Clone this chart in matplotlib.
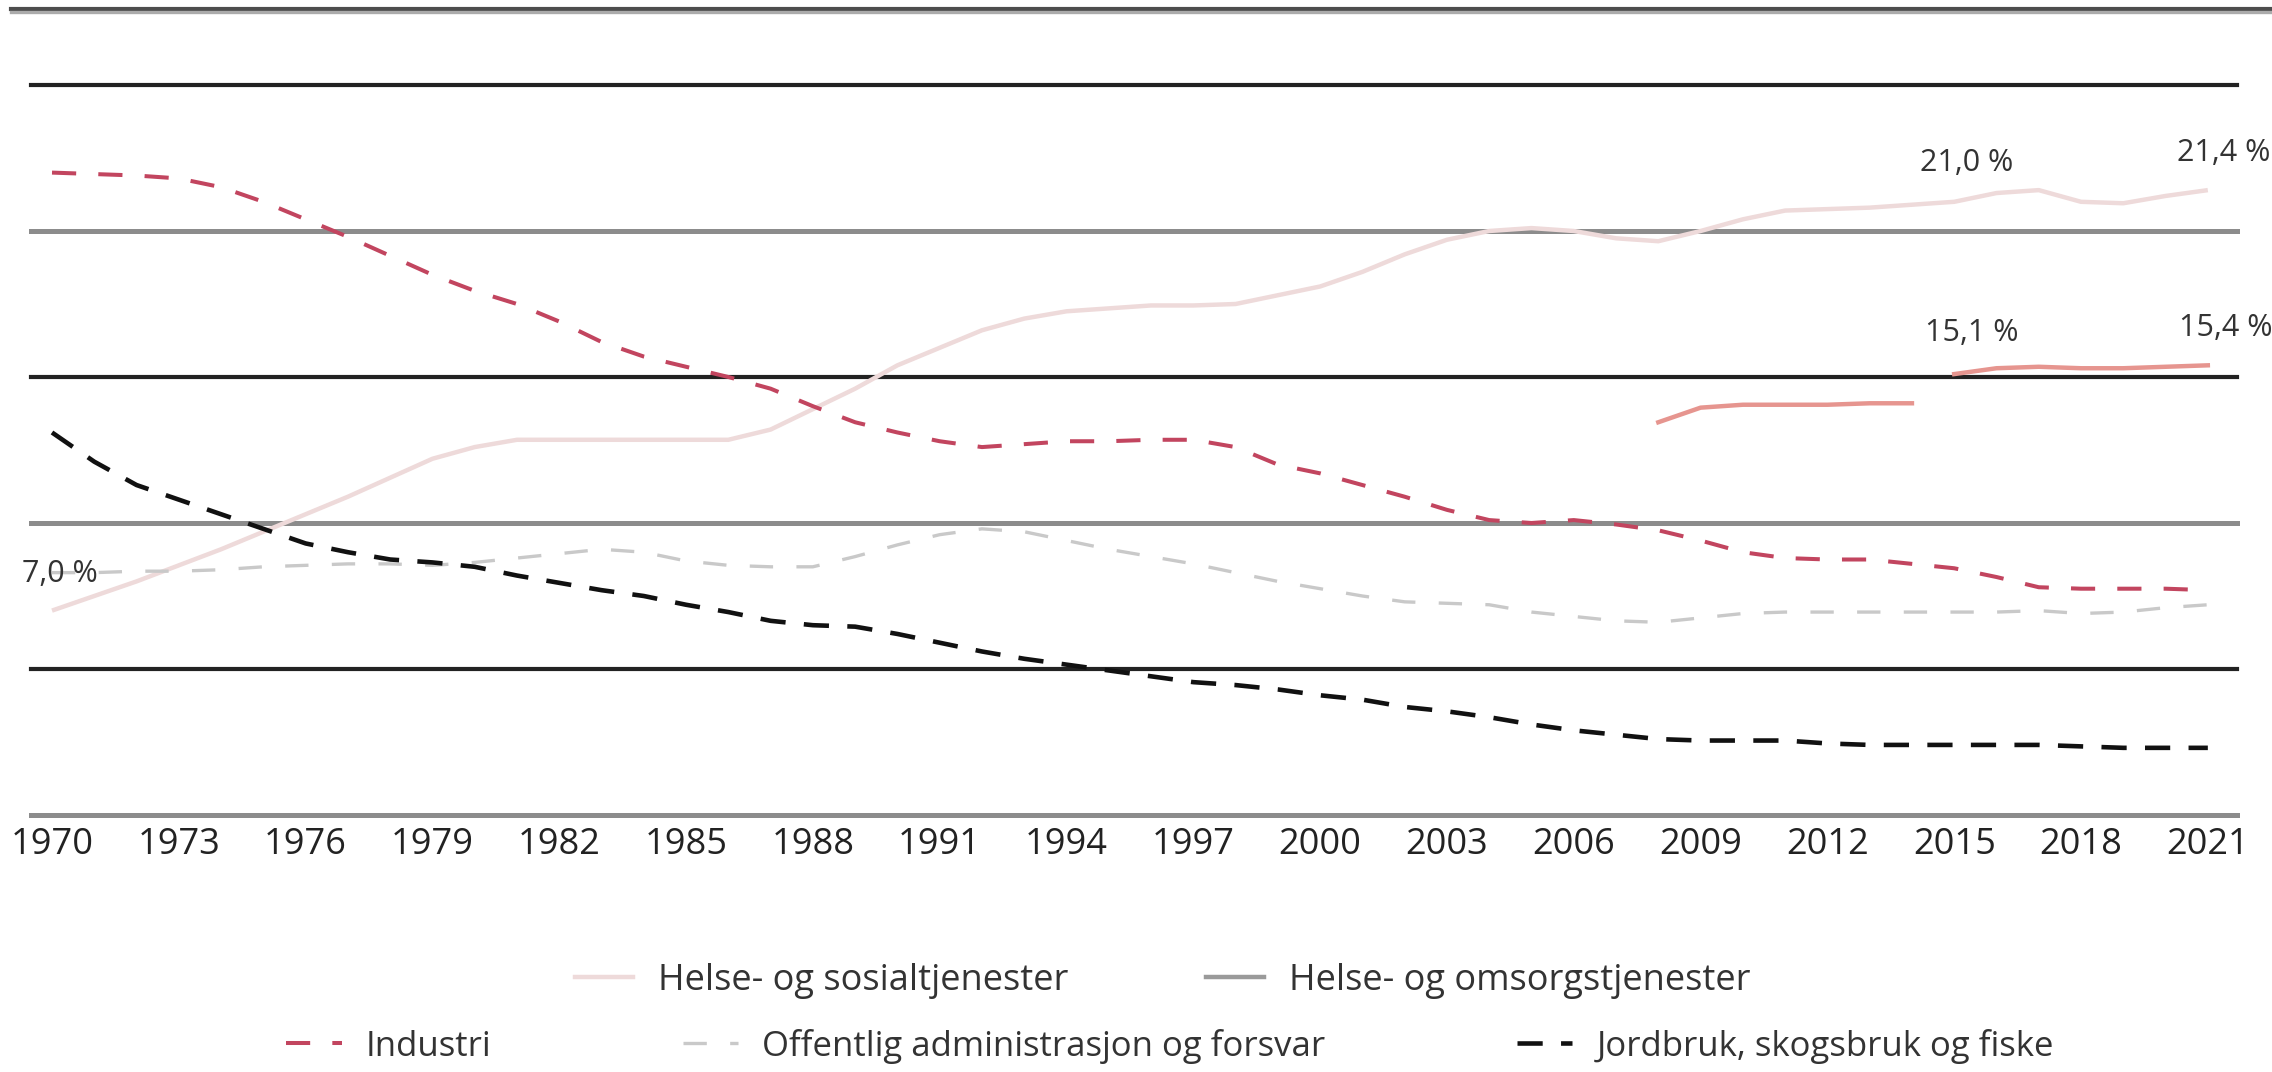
import numpy as np
import matplotlib
matplotlib.use("Agg")
import matplotlib.pyplot as plt
from matplotlib.lines import Line2D

plt.rcParams['font.family'] = ['Open Sans', 'DejaVu Sans']

years = list(range(1970, 2022))

helse_sosial = [7.0, 7.5, 8.0, 8.55, 9.1, 9.7, 10.3, 10.9, 11.55, 12.2,
                12.6, 12.85, 12.85, 12.85, 12.85, 12.85, 12.85, 13.2, 13.9, 14.6,
                15.4, 16.0, 16.6, 17.0, 17.25, 17.35, 17.45, 17.45, 17.5, 17.8,
                18.1, 18.6, 19.2, 19.7, 20.0, 20.1, 20.0, 19.75, 19.65, 20.0,
                20.4, 20.7, 20.75, 20.8, 20.9, 21.0, 21.3, 21.4, 21.0, 20.95,
                21.2, 21.4]

industri = [22.0, 21.95, 21.9, 21.8, 21.5, 21.0, 20.4, 19.8, 19.15, 18.5,
            17.95, 17.5, 16.9, 16.2, 15.7, 15.35, 15.0, 14.6, 14.0, 13.45,
            13.1, 12.8, 12.6, 12.7, 12.8, 12.8, 12.85, 12.85, 12.6, 12.0,
            11.7, 11.3, 10.9, 10.45, 10.1, 10.0, 10.1, 9.95, 9.75, 9.4,
            9.0, 8.8, 8.75, 8.75, 8.6, 8.45, 8.15, 7.8, 7.75, 7.75,
            7.75, 7.7]

offentlig = [8.3, 8.3, 8.35, 8.35, 8.4, 8.5, 8.55, 8.6, 8.6, 8.55,
             8.65, 8.8, 8.95, 9.1, 9.0, 8.7, 8.55, 8.5, 8.5, 8.85,
             9.25, 9.6, 9.8, 9.7, 9.4, 9.1, 8.85, 8.6, 8.3, 8.0,
             7.75, 7.5, 7.3, 7.25, 7.2, 6.95, 6.8, 6.65, 6.6, 6.75,
             6.9, 6.95, 6.95, 6.95, 6.95, 6.95, 6.95, 7.0, 6.9, 6.95,
             7.1, 7.2]

jordbruk = [13.1, 12.1, 11.3, 10.8, 10.3, 9.8, 9.3, 9.0, 8.75, 8.65,
            8.5, 8.2, 7.95, 7.7, 7.5, 7.2, 6.95, 6.65, 6.5, 6.45,
            6.2, 5.9, 5.6, 5.35, 5.15, 4.95, 4.75, 4.55, 4.45, 4.3,
            4.1, 3.95, 3.7, 3.55, 3.35, 3.1, 2.9, 2.75, 2.6, 2.55,
            2.55, 2.55, 2.45, 2.4, 2.4, 2.4, 2.4, 2.4, 2.35, 2.3,
            2.3, 2.3]

# Helse- og omsorgstjenester: two series with a break between 2014 and 2015
omsorg_years_a = [2008, 2009, 2010, 2011, 2012, 2013, 2014]
omsorg_a = [13.45, 13.95, 14.05, 14.05, 14.05, 14.1, 14.1]
omsorg_years_b = [2015, 2016, 2017, 2018, 2019, 2020, 2021]
omsorg_b = [15.1, 15.3, 15.35, 15.3, 15.3, 15.35, 15.4]

xticks = list(range(1970, 2022, 3))

c_sos = '#eedada'
c_oms = '#e6958f'
c_ind = '#c2455f'
c_off = '#c9c9c9'
c_jor = '#111111'

fig = plt.figure(figsize=(22.72, 10.72), dpi=100)
ax = fig.add_axes([31 / 2272, 257 / 1072, 2206 / 2272, 730 / 1072])
ax.set_xlim(1969.503, 2021.69)
ax.set_ylim(0, 25)

# alternating black / grey horizontal lines
for i, lvl in enumerate(range(0, 30, 5)):
    if i % 2 == 0:
        ax.axhline(lvl, color='#8c8c8c', lw=3.6, zorder=1, clip_on=False)
    else:
        ax.axhline(lvl, color='#222222', lw=3.0, zorder=1, clip_on=False)

ax.plot(years, helse_sosial, color=c_sos, lw=3.2, zorder=3, solid_capstyle='butt')
ax.plot(omsorg_years_a, omsorg_a, color=c_oms, lw=3.2, zorder=3)
ax.plot(omsorg_years_b, omsorg_b, color=c_oms, lw=3.2, zorder=3)
ax.plot(years, offentlig, color=c_off, lw=2.4, dashes=(7, 7), zorder=3)
ax.plot(years, industri, color=c_ind, lw=2.9, dashes=(6, 5.5), zorder=4)
ax.plot(years, jordbruk, color=c_jor, lw=3.3, dashes=(5.5, 4), zorder=4)

# value labels
lbl = dict(fontsize=22, color='#333333', textcoords='offset points',
           ha='left', va='center', annotation_clip=False)
ax.annotate('7,0 %', (years[0], helse_sosial[0]), xytext=(-21.5, 26.5), **lbl)
ax.annotate('21,0 %', (2015, helse_sosial[years.index(2015)]), xytext=(-24.5, 28), **lbl)
ax.annotate('21,4 %', (2021, helse_sosial[-1]), xytext=(-22, 27), **lbl)
ax.annotate('15,1 %', (omsorg_years_b[0], omsorg_b[0]), xytext=(-21, 29.5), **lbl)
ax.annotate('15,4 %', (omsorg_years_b[-1], omsorg_b[-1]), xytext=(-21, 27), **lbl)

ax.set_xticks(xticks)
ax.set_xticklabels([str(y) for y in xticks], fontsize=26, color='#222222')
ax.tick_params(axis='x', length=0, pad=9)
ax.set_yticks([])
for s in ax.spines.values():
    s.set_visible(False)

# top rule
fig.add_artist(Line2D([11 / 2272, 1], [1 - 8.5 / 1072] * 2, color='#4d4d4d', lw=3.0))
fig.add_artist(Line2D([11 / 2272, 1], [1 - 12 / 1072] * 2, color='#ababab', lw=2.4))

row1 = [Line2D([], [], color=c_sos, lw=3.2),
        Line2D([], [], color='#9a9a9a', lw=3.2)]
row2 = [Line2D([], [], color=c_ind, lw=2.9, dashes=(6, 5.5)),
        Line2D([], [], color=c_off, lw=2.4, dashes=(7, 7)),
        Line2D([], [], color=c_jor, lw=3.3, dashes=(5.5, 4))]
leg_kw = dict(loc='center', frameon=False, handlelength=1.6,
              handletextpad=0.7, labelcolor='#333333')
fig.legend(row1, ['Helse- og sosialtjenester', 'Helse- og omsorgstjenester'],
           ncol=2, columnspacing=3.8, fontsize=26,
           bbox_to_anchor=(1163 / 2272, 1 - 981 / 1072), **leg_kw)
fig.legend(row2, ['Industri', 'Offentlig administrasjon og forsvar',
                  'Jordbruk, skogsbruk og fiske'],
           ncol=3, columnspacing=5.5, fontsize=25,
           bbox_to_anchor=(1170 / 2272, 1 - 1046 / 1072), **leg_kw)

fig.savefig('out.png', dpi=100)
